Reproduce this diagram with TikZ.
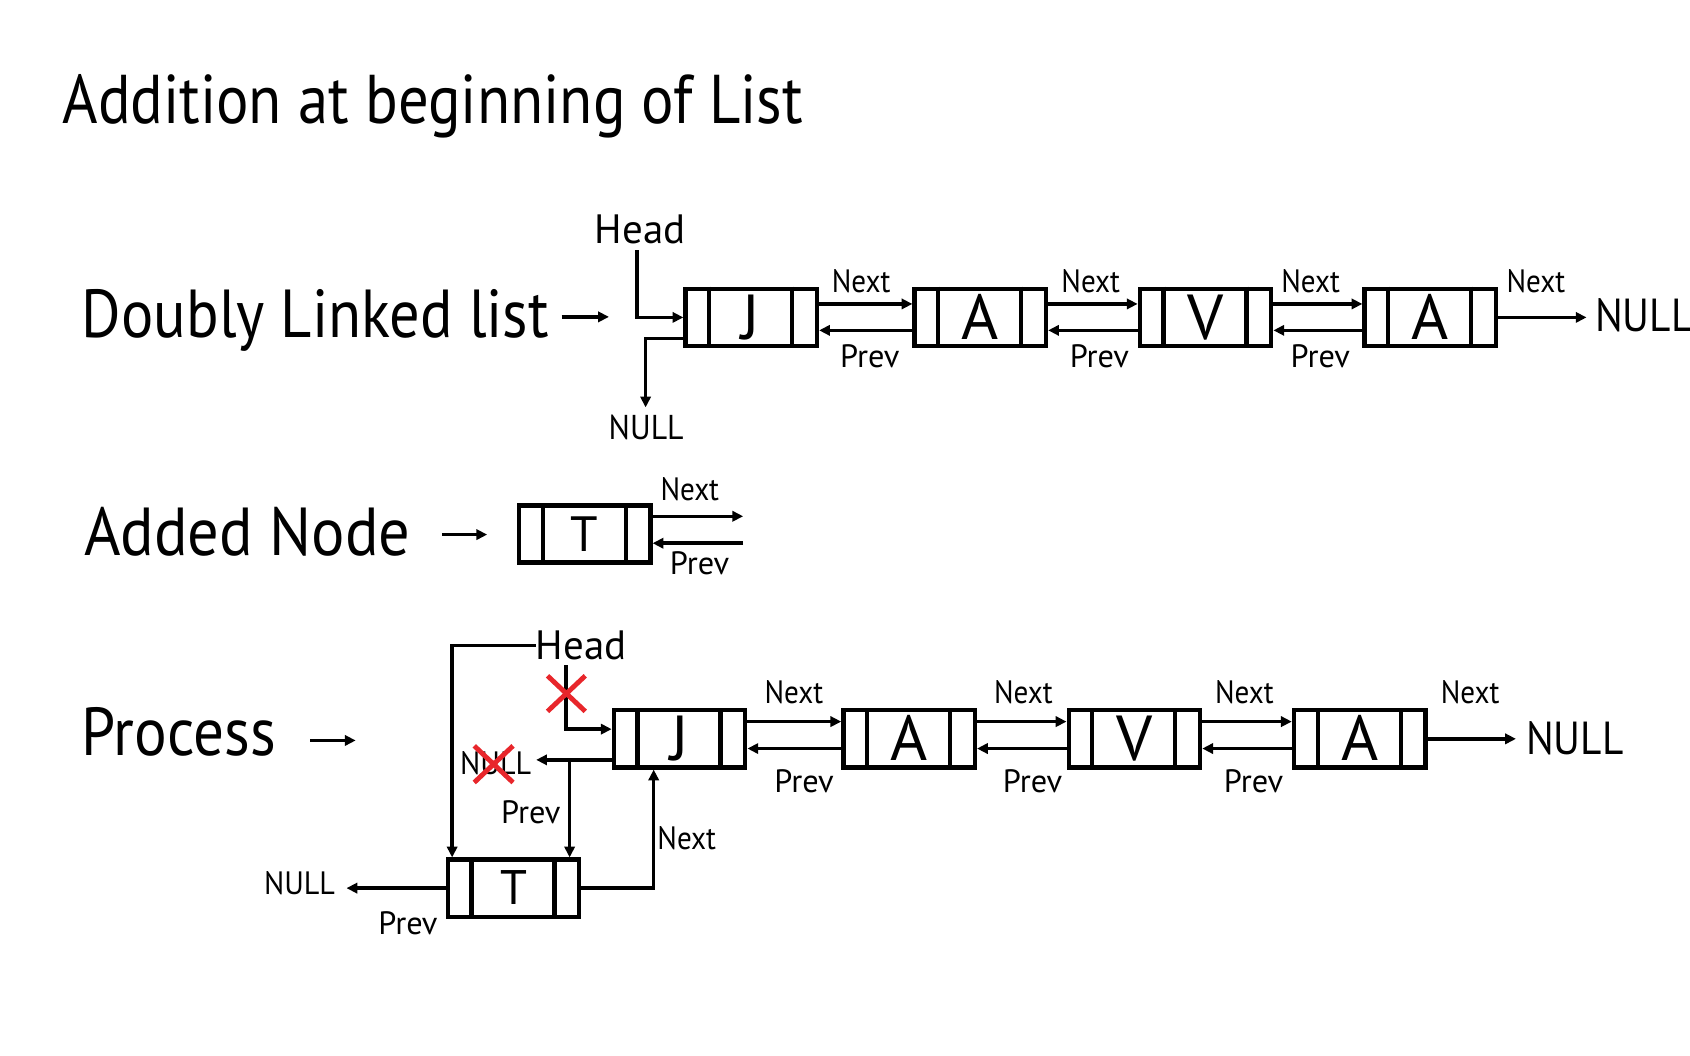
\documentclass[tikz,border=0pt]{standalone}
\usepackage{fontspec}
\usepackage{graphicx}
\setmainfont{PT Sans}
\usetikzlibrary{arrows.meta}
\definecolor{xred}{HTML}{E8262B}
\newcommand{\fs}[1]{\fontsize{#1}{#1}\selectfont}
\newcommand{\sq}[2]{\scalebox{#1}[1]{#2}}
\begin{document}
\begin{tikzpicture}[x=1pt,y=-1pt,
  box/.style={draw, line width=4pt, minimum width=122pt, minimum height=53pt,
    inner sep=0pt, outer sep=2pt, font=\fs{59}, text height=41pt, text depth=0pt},
  tbox/.style={box, font=\fs{46}, text height=32pt},
  lab/.style={inner sep=0pt, outer sep=0pt, font=\fs{30}, anchor=base},
  big/.style={inner sep=0pt, outer sep=0pt, font=\fs{63}, anchor=base west},
  arr/.style={line width=3.2pt, -{Triangle[length=10pt,width=9.5pt]}},
  divider/.style={line width=3.8pt},
  xmark/.style={xred, line width=4.5pt}]
\fill[white] (0,0) rectangle (1568,979);
\useasboundingbox (0,0) rectangle (1568,979);

% title and row labels
\node[big, font=\fs{64}] (title) at (58,115) {\sq{0.88}{Addition at beginning of List}};
\node[big] (dll) at (76,313) {\sq{0.89}{Doubly Linked list}};
\node[big] (added) at (78,515) {\sq{0.92}{Added Node}};
\node[big] (proc) at (76,701) {\sq{0.90}{Process}};
\coordinate (dllA) at (521,294); \coordinate (dllB) at (565,294);
\coordinate (addA) at (410,496); \coordinate (addB) at (452,496);
\coordinate (prA) at (288,687); \coordinate (prB) at (330,687);
\draw[arr] (dllA) -- (dllB);
\draw[arr] (addA) -- (addB);
\draw[arr] (prA) -- (prB);

% ---------- row 1 ----------
\node[box] (j1) at (697,294.5) {J};
\node[box] (a1) at (909.5,294.5) {A};
\node[box] (v1) at (1118.5,294.5) {V};
\node[box] (w1) at (1327,294.5) {A};
\node[lab, anchor=base west, font=\fs{38}] (head1) at (552,226) {Head};
\node[lab, font=\fs{32}] (null1) at (599.5,408) {\sq{0.92}{NULL}};
\node[lab, anchor=base west, font=\fs{43}] (null2) at (1480,308) {\sq{0.89}{NULL}};
\coordinate (h1a) at (591,232);
\draw[arr] (h1a) |- (j1.west);
\draw[arr] ([yshift=-19.5pt]j1.west) -- ++(-35,0) -- ++(0,64);
\foreach \p/\q in {j1/a1, a1/v1, v1/w1}{
  \draw[arr] ([yshift=12.5pt]\p.east) -- ([yshift=12.5pt]\q.west);
  \draw[arr] ([yshift=-12pt]\q.west) -- ([yshift=-12pt]\p.east);
}
\draw[arr] (w1.east) -- ([xshift=82pt]w1.east);
\foreach \x in {799,1012,1216,1425} \node[lab] at (\x,271) {\sq{0.9}{Next}};
\foreach \x in {807,1020,1225} \node[lab] at (\x,341) {Prev};

% ---------- row 2 ----------
\node[tbox] (t0) at (542.5,495.5) {T};
\draw[arr] ([yshift=16.5pt]t0.east) -- ([yshift=16.5pt,xshift=84pt]t0.east);
\draw[arr] ([yshift=-8.5pt,xshift=84pt]t0.east) -- ([yshift=-8.5pt]t0.east);
\node[lab] (next0) at (640,464) {\sq{0.9}{Next}};
\node[lab] (prev0) at (649,533) {Prev};

% ---------- row 3 ----------
\node[box] (j3) at (630.5,685.5) {J};
\node[box] (a3) at (843.5,685.5) {A};
\node[box] (v3) at (1052.5,685.5) {V};
\node[box] (w3) at (1261.5,685.5) {A};
\node[tbox, font=\fs{45}, text height=31pt] (t3) at (476.5,824) {T};
\foreach \p/\q in {j3/a3, a3/v3, v3/w3}{
  \draw[arr] ([yshift=16pt]\p.east) -- ([yshift=16pt]\q.west);
  \draw[arr] ([yshift=-9pt]\q.west) -- ([yshift=-9pt]\p.east);
}
\draw[arr] (w3.east) -- ([xshift=82pt]w3.east);
\node[lab, anchor=base west, font=\fs{43}] (null5) at (1416,700) {\sq{0.89}{NULL}};
\foreach \x in {736.5,949.5,1154.5,1364} \node[lab] at (\x,653) {\sq{0.9}{Next}};
\foreach \x in {746,958,1163} \node[lab] at (\x,735) {Prev};

\node[lab, anchor=base west, font=\fs{38}] (head3) at (497,612) {Head};
\node[lab, anchor=base west] (null3) at (427,719) {\sq{0.93}{NULL}};
\node[lab, anchor=base west] (prev3) at (465,764) {Prev};
\node[lab, anchor=base west] (next3) at (610,788) {\sq{0.9}{Next}};
\node[lab, anchor=base west] (null4) at (245,830) {\sq{0.93}{NULL}};
\node[lab, anchor=base west] (prev4) at (351,867) {Prev};

\coordinate (h3a) at (525,617);
\draw[arr] (head3.west) -| ([xshift=6pt]t3.north west);
\draw[arr] (h3a) |- ([yshift=9pt]j3.west);
\draw[arr] ([yshift=-19.5pt]j3.west) -- ([yshift=-19.5pt,xshift=-70pt]j3.west);
\coordinate (pv) at ([yshift=-19.5pt,xshift=-39pt]j3.west);
\draw[arr] (pv) -- (pv |- t3.north);
\draw[arr] (t3.east) -| ([xshift=39pt]j3.south west);
\draw[arr] (t3.west) -- ([xshift=-92pt]t3.west);

% red crosses
\draw[xmark] (508,627) -- (543,660) (543,627) -- (508,660);
\draw[xmark] (440,692) -- (476,726) (476,692) -- (440,726);

% box dividers
\foreach \b in {j1,a1,v1,w1,t0,j3,a3,v3,w3,t3}{
  \draw[divider] ([xshift=24pt]\b.north west) -- ([xshift=24pt]\b.south west);
  \draw[divider] ([xshift=-25pt]\b.north east) -- ([xshift=-25pt]\b.south east);
}
\end{tikzpicture}
\end{document}
